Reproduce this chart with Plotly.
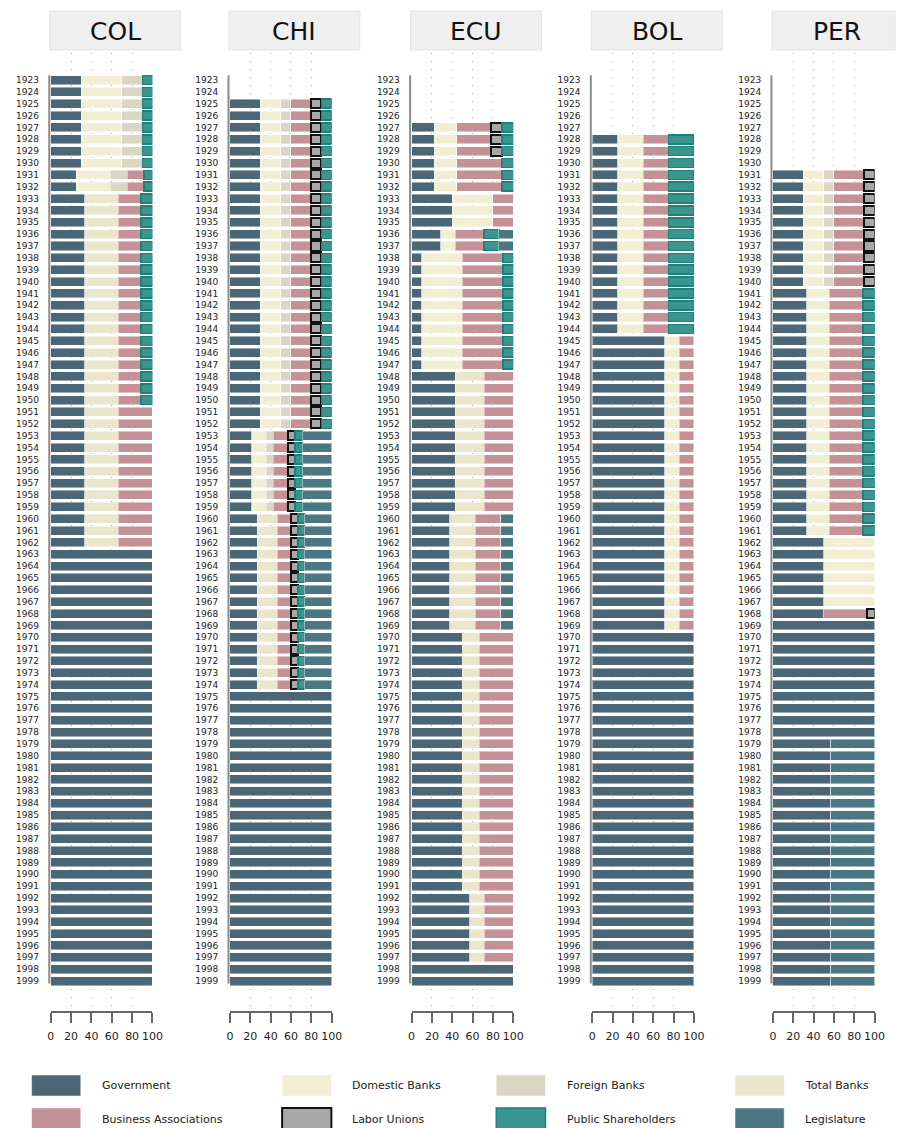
import plotly.graph_objects as go

W, H = 905, 1128

YEARS = list(range(1923, 2000))
COUNTRIES = ["COL", "CHI", "ECU", "BOL", "PER"]
CATEGORIES = ["Government", "Domestic Banks", "Foreign Banks", "Total Banks",
              "Business Associations", "Labor Unions", "Public Shareholders", "Legislature"]
COLORS = ["#4a6677", "#f2eed3", "#d9d6c4", "#ebe5cb",
          "#c49196", "#a8a8a8", "#3a9490", "#4a7782"]

# (first year, last year, [Gov, Domestic, Foreign, Total Banks, Business Assoc., Labor, Public Sh., Legislature])
COL_PERIODS = [
    (1923, 1930, [30, 40, 20, 0, 0, 0, 10, 0]),
    (1931, 1932, [25, 33.3, 16.7, 0, 16.7, 0, 8.3, 0]),
    (1933, 1950, [33.3, 0, 0, 33.3, 22.2, 0, 11.2, 0]),
    (1951, 1962, [33.3, 0, 0, 33.3, 33.4, 0, 0, 0]),
    (1963, 1999, [100, 0, 0, 0, 0, 0, 0, 0]),
]
CHI_PERIODS = [
    (1925, 1952, [30, 20, 10, 0, 20, 10, 10, 0]),
    (1953, 1959, [21.4, 14.3, 7.1, 0, 14.3, 7.1, 7.2, 28.6]),
    (1960, 1974, [26.7, 0, 0, 20, 13.3, 6.7, 6.6, 26.7]),
    (1975, 1999, [100, 0, 0, 0, 0, 0, 0, 0]),
]
ECU_PERIODS = [
    (1927, 1929, [22.2, 22.2, 0, 0, 33.4, 11.1, 11.1, 0]),
    (1930, 1932, [22.2, 22.2, 0, 0, 44.5, 0, 11.1, 0]),
    (1933, 1935, [40, 40, 0, 0, 20, 0, 0, 0]),
    (1936, 1937, [28.6, 14.3, 0, 0, 28.5, 0, 14.3, 14.3]),
    (1938, 1947, [10, 40, 0, 0, 40, 0, 10, 0]),
    (1948, 1959, [42.9, 0, 0, 28.6, 28.5, 0, 0, 0]),
    (1960, 1969, [37.5, 0, 0, 25, 25, 0, 0, 12.5]),
    (1970, 1991, [50, 0, 0, 16.7, 33.3, 0, 0, 0]),
    (1992, 1997, [57.1, 0, 0, 14.3, 28.6, 0, 0, 0]),
    (1998, 1999, [100, 0, 0, 0, 0, 0, 0, 0]),
]
BOL_PERIODS = [
    (1928, 1944, [25, 25, 0, 0, 25, 0, 25, 0]),
    (1945, 1969, [71.4, 14.3, 0, 0, 14.3, 0, 0, 0]),
    (1970, 1999, [100, 0, 0, 0, 0, 0, 0, 0]),
]
PER_PERIODS = [
    (1931, 1940, [30, 20, 10, 0, 30, 10, 0, 0]),
    (1941, 1961, [33.3, 22.2, 0, 0, 33.3, 0, 11.2, 0]),
    (1962, 1967, [50, 50, 0, 0, 0, 0, 0, 0]),
    (1968, 1968, [50, 0, 0, 0, 43, 7, 0, 0]),
    (1969, 1978, [100, 0, 0, 0, 0, 0, 0, 0]),
    (1979, 1999, [57.1, 0, 0, 0, 0, 0, 0, 42.9]),
]
PERIODS = [COL_PERIODS, CHI_PERIODS, ECU_PERIODS, BOL_PERIODS, PER_PERIODS]
X_TICKS = [0, 20, 40, 60, 80, 100]

# ---- layout geometry (pixels) ----
PANEL_LEFT = [47.5, 229.5, 414, 597.5, 781]
PANEL_W = 103.3
PLOT_TOP, PLOT_BOT = 53, 1011
STRIP_W = 133
FONT = "DejaVu Sans"


def px_x(p):
    return min(max(p / W, 0), 1)


def px_y(p):
    return 1 - p / H


SOFT = dict(color="rgba(255,255,255,0.45)", width=1)
LINE_STYLE = [SOFT, SOFT, SOFT, SOFT, SOFT,
              dict(color="#111111", width=2),
              dict(color="#1f7f7b", width=1.5),
              SOFT]

fig = go.Figure()
shapes = []
annotations = []
layout = dict(
    width=W, height=H, autosize=False,
    margin=dict(l=0, r=0, t=0, b=0),
    paper_bgcolor="white", plot_bgcolor="white",
    barmode="stack", bargap=0.2, showlegend=False,
    font=dict(family=FONT, color="#222"),
)

for i, (country, periods) in enumerate(zip(COUNTRIES, PERIODS)):
    sfx = "" if i == 0 else str(i + 1)
    xa, ya = "x" + sfx, "y" + sfx
    values = {c: [None] * len(YEARS) for c in CATEGORIES}
    for (y0, y1, shares) in periods:
        for yr in range(y0, y1 + 1):
            for c, v in zip(CATEGORIES, shares):
                if v:
                    values[c][yr - YEARS[0]] = v
    for k, c in enumerate(CATEGORIES):
        fig.add_trace(go.Bar(
            y=YEARS, x=values[c], orientation="h", name=c,
            xaxis=xa, yaxis=ya, width=0.76,
            marker=dict(color=COLORS[k], line=LINE_STYLE[k]),
            hovertemplate=country + " %{y}<br>" + c + ": %{x}<extra></extra>",
        ))
    l = PANEL_LEFT[i]
    layout["xaxis" + sfx] = dict(
        domain=[px_x(l), px_x(l + PANEL_W)], range=[0, 100], anchor=ya,
        tickvals=X_TICKS, showgrid=True, gridcolor="#b5b5b5", gridwidth=1,
        griddash="1px,7px", zeroline=False,
        showline=True, linecolor="#666", linewidth=2,
        ticks="outside", ticklen=10, tickwidth=2, tickcolor="#666",
        ticklabelstandoff=4,
        tickfont=dict(size=11, color="#222", family=FONT), fixedrange=True,
    )
    layout["yaxis" + sfx] = dict(
        domain=[px_y(PLOT_BOT), px_y(PLOT_TOP)],
        range=[2001.53, 1920.72], anchor=xa,
        tickvals=YEARS, ticktext=[str(y) for y in YEARS],
        tickfont=dict(size=9, color="#222", family=FONT),
        showgrid=False, zeroline=False, showline=False,
        ticks="outside", ticklen=9, tickcolor="rgba(0,0,0,0)", fixedrange=True,
    )
    # range-frame y axis line
    shapes.append(dict(type="line", xref="paper", yref=ya,
                       x0=px_x(l - 1.5), x1=px_x(l - 1.5), y0=1922.6, y1=1999.2,
                       line=dict(color="#8a8a8a", width=2)))
    # strip
    shapes.append(dict(type="rect", xref="paper", yref="paper",
                       x0=px_x(l - 1), x1=px_x(l - 1 + STRIP_W), y0=px_y(50), y1=px_y(11),
                       fillcolor="#efefef", line=dict(color="#dce6ec", width=1), layer="below"))
    annotations.append(dict(text=country, xref="paper", yref="paper",
                            x=px_x(l - 1 + STRIP_W / 2), y=px_y(31), xanchor="center", yanchor="middle",
                            showarrow=False, font=dict(size=25, color="#111", family=FONT)))

# ---- legend (drawn manually) ----
LEG_SWATCH_X = [28, 282.5, 500, 742.5]
LEG_TEXT_X = [98, 351, 570, 812]
LEG_ROWS = [(1075, 1096), (1108, 1129)]
for k, c in enumerate(CATEGORIES):
    row, col = divmod(k, 4)
    ytop, ybot = LEG_ROWS[row]
    x0 = LEG_SWATCH_X[col]
    if c == "Labor Unions":
        line = dict(color="#111", width=2)
    elif c == "Public Shareholders":
        line = dict(color="#1f7f7b", width=1.5)
    else:
        line = dict(color="rgba(255,255,255,0.5)", width=1)
    shapes.append(dict(type="rect", xref="paper", yref="paper",
                       x0=px_x(x0), x1=px_x(x0 + 50), y0=px_y(ybot), y1=px_y(ytop),
                       fillcolor=COLORS[k], line=line))
    ymid = 1085.5 if row == 0 else 1119.5
    annotations.append(dict(text=c, xref="paper", yref="paper",
                            x=px_x(LEG_TEXT_X[col]), y=px_y(ymid),
                            xanchor="left", yanchor="middle", showarrow=False,
                            font=dict(size=11, color="#222", family=FONT)))

layout["shapes"] = shapes
layout["annotations"] = annotations
fig.update_layout(**layout)
fig.write_html("out.html", config={"displayModeBar": False})
